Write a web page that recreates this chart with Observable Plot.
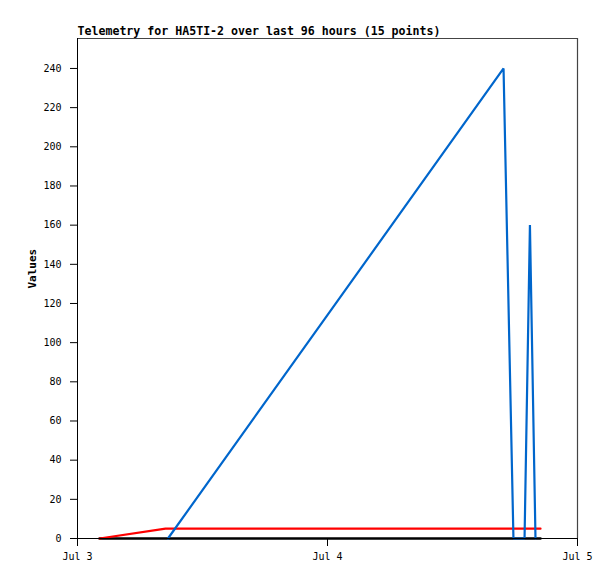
<!DOCTYPE html>
<html><head><meta charset="utf-8">
<script src="https://cdn.jsdelivr.net/npm/d3@7"></script>
<script src="https://cdn.jsdelivr.net/npm/@observablehq/plot@0.6"></script>
<style>
html,body{margin:0;padding:0;background:#fff;}
</style>
</head><body>
<div id="chart"></div>
<script>
const title = "Telemetry for HA5TI-2 over last 96 hours (15 points)";
const yLabel = "Values";
// Blue series
const blueTimes = ["2024-07-03T08:41","2024-07-04T16:54","2024-07-04T17:51","2024-07-04T18:55","2024-07-04T19:26","2024-07-04T19:58"];
const blueValues = [0, 240, 0, 0, 160, 0];
// Red series
const redTimes = ["2024-07-03T02:07","2024-07-03T08:27","2024-07-04T20:27"];
const redValues = [0, 5, 5];
// Black series
const blackTimes = ["2024-07-03T02:07","2024-07-04T20:27"];
const blackValues = [0, 0];
const yTicks = [0,20,40,60,80,100,120,140,160,180,200,220,240];
const xTicks = ["2024-07-03T00:00","2024-07-04T00:00","2024-07-05T00:00"];
const xTickLabels = ["Jul 3","Jul 4","Jul 5"];
const xDomain = ["2024-07-03T00:00","2024-07-05T00:00"];
const yDomain = [0, 255.3];

const parse = s => new Date(s);
const mk = (t, v, s) => t.map((d, i) => ({t: parse(d), v: v[i], s}));
const blue = mk(blueTimes, blueValues, "blue");
const red = mk(redTimes, redValues, "red");
const black = mk(blackTimes, blackValues, "black");
const xt = xTicks.map(parse);
const font = "'DejaVu Sans Mono', monospace";
const fmtX = d => xTickLabels[xt.findIndex(e => +e === +d)];

const chart = Plot.plot({
  width: 615, height: 579,
  marginLeft: 77, marginRight: 38, marginTop: 38, marginBottom: 41,
  style: {fontFamily: font, fontSize: "10px", background: "#fff", color: "#000"},
  x: {type: "time", domain: xDomain.map(parse), label: null},
  y: {domain: yDomain, label: null},
  marks: [
    Plot.ruleY([yDomain[1]], {stroke: "#444", strokeWidth: 1.2}),
    Plot.ruleX([parse(xDomain[1])], {stroke: "#444", strokeWidth: 1.2}),
    Plot.axisX({ticks: xt, tickFormat: fmtX, tickSize: 8, tickPadding: 6, fontSize: 10, label: null}),
    Plot.axisY({ticks: yTicks, tickSize: 7, tickPadding: 9, fontSize: 10, label: null}),
    Plot.lineY(black, {x: "t", y: "v", stroke: "#000", strokeWidth: 2.5}),
    Plot.lineY(red, {x: "t", y: "v", stroke: "#ff0000", strokeWidth: 2.2}),
    Plot.lineY(blue, {x: "t", y: "v", stroke: "#0066cc", strokeWidth: 2.2, strokeLinejoin: "miter"}),
    Plot.ruleX([parse(xDomain[0])], {stroke: "#000", strokeWidth: 1}),
    Plot.ruleY([0], {stroke: "#000", strokeWidth: 1}),
    Plot.text([title], {frameAnchor: "top-left", dy: -4, textAnchor: "start", lineAnchor: "bottom", fontWeight: "bold", fontSize: 11.6, fill: "#000"}),
    Plot.text([yLabel], {frameAnchor: "left", dx: -45, rotate: -90, fontWeight: "bold", fontSize: 11, fill: "#000"})
  ]
});
document.getElementById("chart").appendChild(chart);
</script>
</body></html>
